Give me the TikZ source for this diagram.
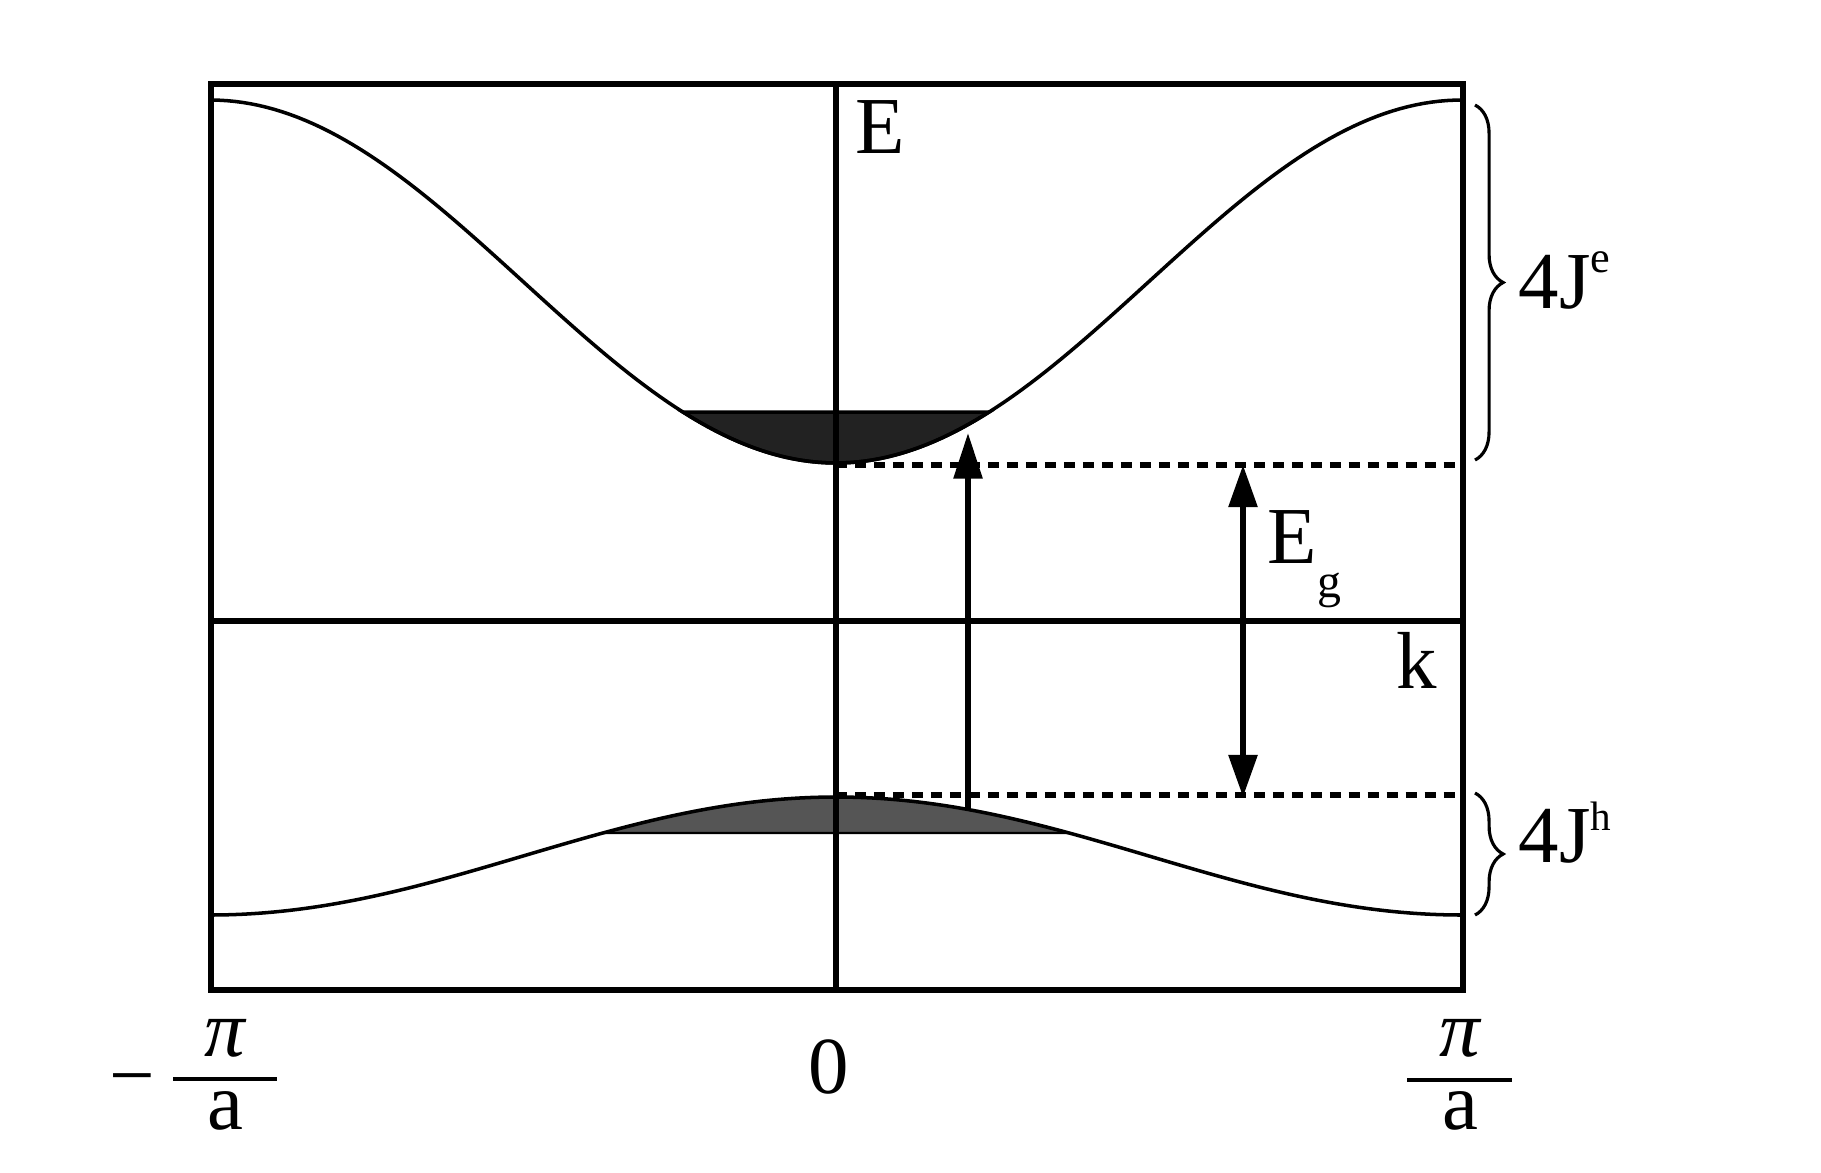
\documentclass[tikz,border=0pt]{standalone}
\usepackage{fontspec}
\setmainfont{Liberation Serif}
\usepackage{xcolor}
\definecolor{BandDark}{HTML}{222222}
\definecolor{BandGrey}{HTML}{555555}
\usepackage{tikz}
\usetikzlibrary{arrows.meta,decorations.pathreplacing}
\tikzstyle{frameLine}=[line width=1.6pt]
\tikzstyle{bandLine}=[line width=1pt]
\tikzstyle{levelLine}=[line width=1.5pt, dash pattern=on 3.1pt off 2.3pt]
\tikzstyle{arr}=[line width=1.6pt, -{Triangle[length=13pt,width=8pt]}]
\tikzstyle{dblarr}=[line width=1.6pt, {Triangle[length=12pt,width=8pt]}-{Triangle[length=12pt,width=8pt]}]
\tikzstyle{braceLine}=[line width=0.9pt, decorate, decoration={brace,amplitude=8pt}]
\tikzstyle{fracBar}=[line width=1.1pt]
\tikzstyle{lbl}=[inner sep=0pt, font=\fontsize{23}{27}\selectfont]
\tikzstyle{zoneEdge}=[inner sep=0pt, anchor=base, font=\fontsize{23}{20.5}\selectfont]

\begin{document}
\begin{tikzpicture}[x=0.01cm,y=-0.01cm]
\useasboundingbox (0,0) rectangle (1821,1172);

% occupied parts of the two bands
\filldraw[fill=BandDark, line width=1pt] plot[domain=683:989,samples=60] (\x,{463-181.5*(1-cos((\x-836)/626*180))}) -- cycle;
\filldraw[fill=BandGrey, line width=0.6pt] plot[domain=603:1069,samples=60] (\x,{797+59*(1-cos((\x-836)/626*180))}) -- cycle;

% band curves
\draw[bandLine] plot[domain=211:1463,samples=160] (\x,{463-181.5*(1-cos((\x-836)/626*180))});
\draw[bandLine] plot[domain=211:1463,samples=160] (\x,{797+59*(1-cos((\x-836)/626*180))});

% frame and axes
\draw[frameLine] (211,84) rectangle (1463,990);
\draw[frameLine] (836,84) -- (836,990);
\draw[frameLine] (211,621) -- (1463,621);

% band edges
\coordinate (cbMin) at (836,465);
\coordinate (cbEnd) at (1463,465);
\coordinate (vbMax) at (836,795);
\coordinate (vbEnd) at (1463,795);
\draw[levelLine] (cbMin) -- (cbEnd);
\draw[levelLine] (vbMax) -- (vbEnd);

% transition and gap
\coordinate (hTop) at (968,808);
\coordinate (eBottom) at (968,433);
\draw[arr] (hTop) -- (eBottom);
\coordinate (gapTop) at (1243,465);
\coordinate (gapBot) at (1243,797);
\draw[dblarr] (gapBot) -- (gapTop);

% band widths
\draw[braceLine] (1475,105) -- (1475,460);
\draw[braceLine] (1475,793) -- (1475,915);

\node[lbl, anchor=base] (Elabel) at (880,153) {E};
\node[lbl, anchor=base] (klabel) at (1417,688) {k};
\node[lbl, anchor=base] (zero) at (829,1093) {0};
\node[lbl, anchor=base west] (gap) at (1267,563) {E\raisebox{-9.7pt}{\fontsize{13.6}{14}\selectfont g}};
\node[lbl, anchor=base west] (Jelec) at (1518,308) {4J\raisebox{10pt}{\fontsize{12.6}{13}\selectfont e}};
\node[lbl, anchor=base west] (Jhole) at (1518,862) {4J\raisebox{9pt}{\fontsize{11.7}{12}\selectfont h}};

% zone edges
\node[lbl, anchor=base] (minus) at (132,1102) {−};
\node[zoneEdge] (kmin) at (225,1129) {\begin{tabular}[b]{@{}c@{}}\itshape π\\ a\end{tabular}};
\coordinate (barLw) at (173,1079);
\coordinate (barLe) at (277,1079);
\draw[fracBar] (barLw) -- (barLe);
\node[zoneEdge] (kmax) at (1460,1129) {\begin{tabular}[b]{@{}c@{}}\itshape π\\ a\end{tabular}};
\coordinate (barRw) at (1407,1080);
\coordinate (barRe) at (1512,1080);
\draw[fracBar] (barRw) -- (barRe);
\end{tikzpicture}
\end{document}
